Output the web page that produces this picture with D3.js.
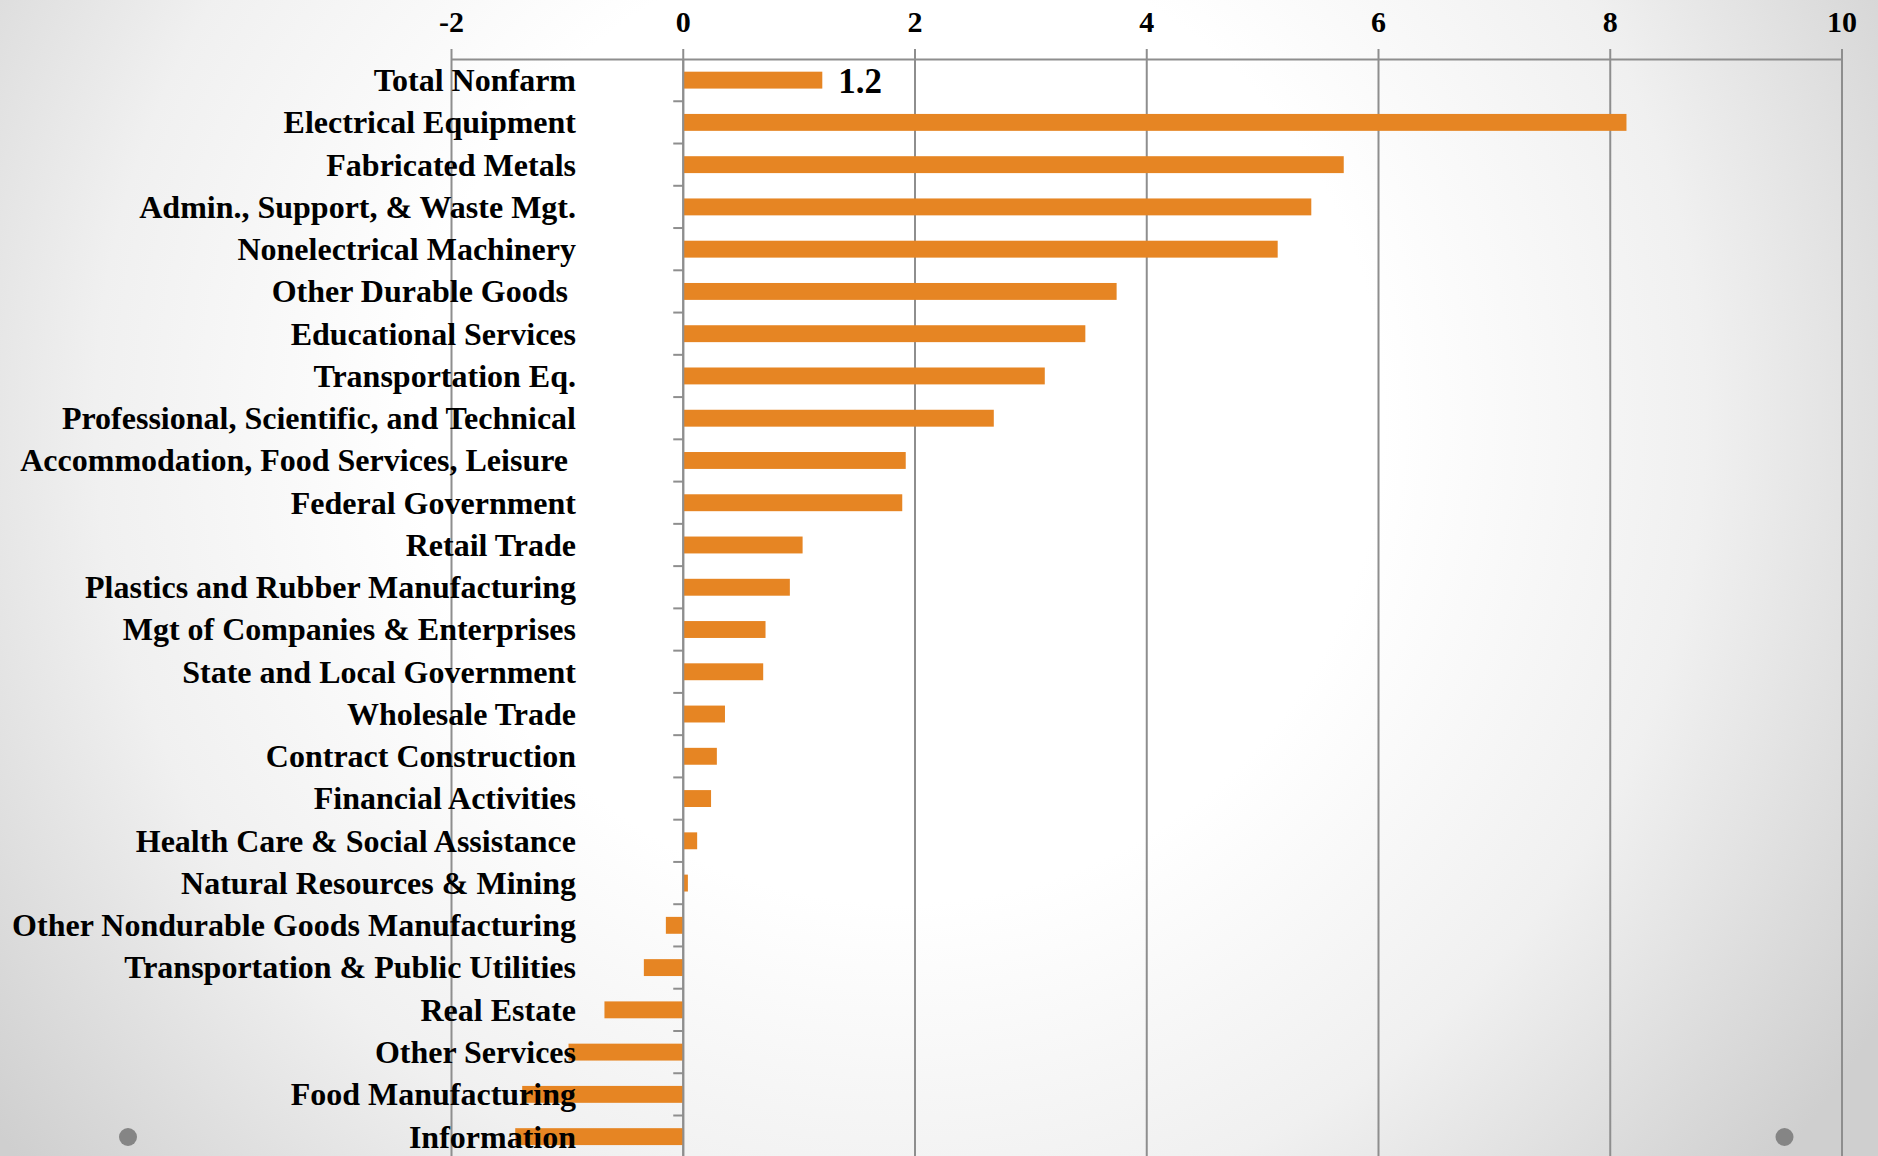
<!DOCTYPE html>
<html>
<head>
<meta charset="utf-8">
<script src="https://cdn.jsdelivr.net/npm/d3@7"></script>
<style>
  body { margin: 0; }
  svg { display: block; }
  text { font-family: "Liberation Serif", "Times New Roman", serif; font-weight: bold; }
</style>
</head>
<body>
<div id="chart"></div>
<script>
// industries, top to bottom
var categorias = [
    "Total Nonfarm", "Electrical Equipment", "Fabricated Metals",
    "Admin., Support, & Waste Mgt.", "Nonelectrical Machinery", "Other Durable Goods ",
    "Educational Services", "Transportation Eq.", "Professional, Scientific, and Technical",
    "Accommodation, Food Services, Leisure ", "Federal Government", "Retail Trade",
    "Plastics and Rubber Manufacturing", "Mgt of Companies & Enterprises",
    "State and Local Government", "Wholesale Trade", "Contract Construction",
    "Financial Activities", "Health Care & Social Assistance", "Natural Resources & Mining",
    "Other Nondurable Goods Manufacturing", "Transportation & Public Utilities",
    "Real Estate", "Other Services", "Food Manufacturing", "Information"
];
var valores = [
    1.2, 8.14, 5.70, 5.42, 5.13, 3.74, 3.47, 3.12, 2.68, 1.92, 1.89, 1.03, 0.92,
    0.71, 0.69, 0.36, 0.29, 0.24, 0.12, 0.04, -0.15, -0.34, -0.68, -0.99, -1.39, -1.45
];
var ticksX = [-2, 0, 2, 4, 6, 8, 10];
var rotulos = ["1.2"]; // only the first bar carries a data label

var W = 1878, H = 1156;
var cor = "#e68523";
var cinza = "#8e8e8e";

var svg = d3.select("#chart").append("svg")
    .attr("width", W).attr("height", H);

// slide background
var grad = svg.append("defs").append("radialGradient")
    .attr("id", "fundo").attr("gradientUnits", "userSpaceOnUse")
    .attr("cx", 900).attr("cy", 420).attr("r", 1150);
grad.append("stop").attr("offset", "0%").attr("stop-color", "#ffffff");
grad.append("stop").attr("offset", "42%").attr("stop-color", "#ffffff");
grad.append("stop").attr("offset", "70%").attr("stop-color", "#f0f0f0");
grad.append("stop").attr("offset", "100%").attr("stop-color", "#cfcfcf");
svg.append("rect").attr("width", W).attr("height", H).attr("fill", "url(#fundo)");

var fx = d3.scaleLinear().domain([-2, 10]).range([451.5, 1842]);
var fy = d3.scaleBand().domain(d3.range(categorias.length))
    .range([59, 59 + 42.26 * categorias.length])
    .paddingInner(0.6).paddingOuter(0.3);
var passo = fy.step();

// grid lines (with the little tick above the axis)
svg.append("g").selectAll("line").data(ticksX).enter()
    .append("line")
      .attr("x1", function(d) { return fx(d); })
      .attr("x2", function(d) { return fx(d); })
      .attr("y1", 49).attr("y2", H)
      .attr("stroke", cinza).attr("stroke-width", 2);

// top axis line
svg.append("line")
    .attr("x1", fx(-2)).attr("x2", fx(10))
    .attr("y1", 59.5).attr("y2", 59.5)
    .attr("stroke", cinza).attr("stroke-width", 2.2);

svg.append("g").selectAll("text").data(ticksX).enter()
    .append("text")
      .attr("x", function(d) { return fx(d); })
      .attr("y", 32)
      .attr("text-anchor", "middle")
      .attr("font-size", 30)
      .text(function(d) { return d; });

// bars
svg.append("g").selectAll("rect").data(valores).enter()
    .append("rect")
      .attr("x", function(d) { return fx(Math.min(0, d)); })
      .attr("width", function(d) { return Math.abs(fx(d) - fx(0)); })
      .attr("y", function(d, i) { return fy(i); })
      .attr("height", fy.bandwidth())
      .attr("fill", cor);

// category axis at zero
svg.append("line")
    .attr("x1", fx(0)).attr("x2", fx(0))
    .attr("y1", 59).attr("y2", H)
    .attr("stroke", cinza).attr("stroke-width", 2);
svg.append("g").selectAll("line").data(d3.range(1, categorias.length)).enter()
    .append("line")
      .attr("x1", fx(0) - 10).attr("x2", fx(0))
      .attr("y1", function(i) { return 59 + i * passo; })
      .attr("y2", function(i) { return 59 + i * passo; })
      .attr("stroke", cinza).attr("stroke-width", 2);

// category labels
svg.append("g").selectAll("text").data(categorias).enter()
    .append("text")
      .attr("x", 576)
      .attr("y", function(d, i) { return fy(i) + fy.bandwidth() / 2; })
      .attr("dy", "0.34em")
      .attr("text-anchor", "end")
      .attr("font-size", 32)
      .style("white-space", "pre")
      .text(function(d) { return d; });

// data label
svg.append("g").selectAll("text").data(rotulos).enter()
    .append("text")
      .attr("x", function(d, i) { return fx(valores[i]) + 16; })
      .attr("y", function(d, i) { return fy(i) + fy.bandwidth() / 2; })
      .attr("dy", "0.36em")
      .attr("font-size", 35)
      .text(function(d) { return d; });

// slide navigation dots
svg.append("g").selectAll("circle").data([128, 1784.5]).enter()
    .append("circle")
      .attr("cx", function(d) { return d; })
      .attr("cy", 1137)
      .attr("r", 9)
      .attr("fill", "#858585");
</script>
</body>
</html>
